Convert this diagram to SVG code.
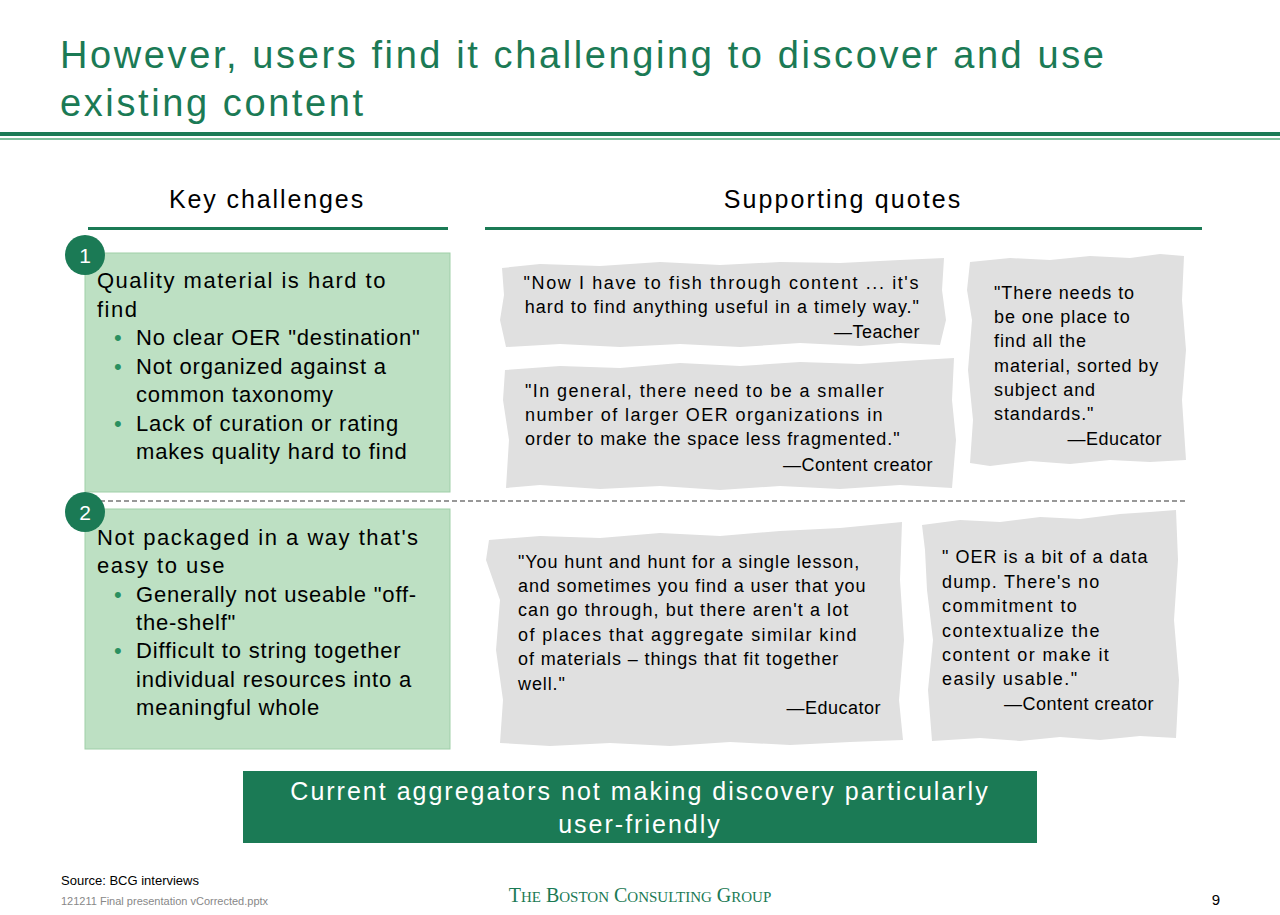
<svg xmlns="http://www.w3.org/2000/svg" width="1280" height="915" viewBox="0 0 1280 915">
<style>
.t{font-family:"Liberation Sans",Arial,sans-serif;}
.q{font-family:"Liberation Sans",Arial,sans-serif;font-size:18px;fill:#000;letter-spacing:0.9px;}
.b{font-family:"Liberation Sans",Arial,sans-serif;font-size:22px;fill:#000;letter-spacing:0.8px;}
.paper{fill:#e0e0e0;}
.gbox{fill:#bde0c3;stroke:#9fcfa8;stroke-width:1;}
.dot{fill:#2a9060;}
</style>
<rect width="1280" height="915" fill="#fff"/>
<text class="t" x="60" y="68" font-size="38" fill="#1b7a55" letter-spacing="2.6">However, users find it challenging to discover and use</text>
<text class="t" x="60" y="116" font-size="38" fill="#1b7a55" letter-spacing="2.6">existing content</text>
<rect x="0" y="132" width="1280" height="4" fill="#1b7a55"/>
<rect x="0" y="138" width="1280" height="2" fill="#7fbf9c"/>

<text class="t" x="267" y="208" font-size="25" text-anchor="middle" letter-spacing="1.9">Key challenges</text>
<text class="t" x="843" y="208" font-size="25" text-anchor="middle" letter-spacing="2.1">Supporting quotes</text>
<rect x="88" y="227" width="360" height="3" fill="#1b7a55"/>
<rect x="485" y="227" width="717" height="3" fill="#1b7a55"/>

<g id="connectors">
<line x1="100" y1="501" x2="1188" y2="501" stroke="#777" stroke-width="1.3" stroke-dasharray="5,3"/>
</g>

<g id="challenge1">
<rect class="gbox" x="85" y="253" width="365" height="239"/>
<circle cx="85" cy="255" r="20" fill="#1b7a55"/>
<text class="t" x="85" y="263" font-size="21" fill="#fff" text-anchor="middle">1</text>
<text class="b" x="97" y="288" style="letter-spacing:1.5px">Quality material is hard to</text>
<text class="b" x="97" y="317" style="letter-spacing:1.5px">find</text>
<text class="b" x="114" y="345"><tspan class="dot">•</tspan></text><text class="b" x="136" y="345">No clear OER "destination"</text>
<text class="b" x="114" y="374"><tspan class="dot">•</tspan></text><text class="b" x="136" y="374">Not organized against a</text>
<text class="b" x="136" y="402">common taxonomy</text>
<text class="b" x="114" y="431"><tspan class="dot">•</tspan></text><text class="b" x="136" y="431">Lack of curation or rating</text>
<text class="b" x="136" y="459">makes quality hard to find</text>
</g>

<g id="challenge2">
<rect class="gbox" x="85" y="509" width="365" height="240"/>
<circle cx="85" cy="512" r="20" fill="#1b7a55"/>
<text class="t" x="85" y="520" font-size="21" fill="#fff" text-anchor="middle">2</text>
<text class="b" x="97" y="545" style="letter-spacing:1.5px">Not packaged in a way that's</text>
<text class="b" x="97" y="573" style="letter-spacing:1.5px">easy to use</text>
<text class="b" x="114" y="602"><tspan class="dot">•</tspan></text><text class="b" x="136" y="602">Generally not useable "off-</text>
<text class="b" x="136" y="630">the-shelf"</text>
<text class="b" x="114" y="658"><tspan class="dot">•</tspan></text><text class="b" x="136" y="658">Difficult to string together</text>
<text class="b" x="136" y="687">individual resources into a</text>
<text class="b" x="136" y="715">meaningful whole</text>
</g>

<g id="quote1">
<polygon class="paper" points="502,268 540,264 600,266 660,262 720,265 780,262 840,263 900,260 944,258 942,290 946,320 940,345 900,343 860,346 800,343 740,347 680,344 620,347 560,344 506,347 500,320 504,295"/>
<text class="q" x="920" y="289" text-anchor="end" style="letter-spacing:1.6px">"Now I have to fish through content  ... it's</text>
<text class="q" x="920" y="313" text-anchor="end" style="letter-spacing:1.0px">hard to find anything useful in a timely way."</text>
<text class="q" x="920" y="338" text-anchor="end" style="letter-spacing:0.5px">—Teacher</text>
</g>

<g id="quote2">
<polygon class="paper" points="505,370 560,366 620,368 680,363 740,366 800,362 860,364 920,360 954,358 952,400 956,440 952,488 900,485 840,489 780,486 720,490 660,486 600,489 540,485 506,488 509,440 503,400"/>
<text class="q" x="525" y="397" style="letter-spacing:1.4px">"In general, there need to be a smaller</text>
<text class="q" x="525" y="421" style="letter-spacing:1.4px">number of larger OER organizations in</text>
<text class="q" x="525" y="445">order to make the space less fragmented."</text>
<text class="q" x="933" y="471" text-anchor="end" style="letter-spacing:0.5px">—Content creator</text>
</g>

<g id="quote3">
<polygon class="paper" points="970,262 1010,258 1050,260 1090,256 1130,258 1160,254 1184,256 1182,300 1186,350 1182,400 1186,460 1150,462 1110,460 1070,464 1030,461 990,466 970,463 973,420 968,370 972,320 967,290"/>
<text class="q" x="994" y="299">"There needs to</text>
<text class="q" x="994" y="323">be one place to</text>
<text class="q" x="994" y="347">find all the</text>
<text class="q" x="994" y="372">material, sorted by</text>
<text class="q" x="994" y="396">subject and</text>
<text class="q" x="994" y="420">standards."</text>
<text class="q" x="1162" y="445" text-anchor="end" style="letter-spacing:0.5px">—Educator</text>
</g>

<g id="quote4">
<polygon class="paper" points="489,540 540,536 600,538 660,533 720,536 780,531 840,528 902,522 900,580 904,640 899,700 903,740 850,742 790,745 730,742 670,746 610,743 550,746 500,743 503,700 496,650 500,600 486,560"/>
<text class="q" x="518" y="568">"You hunt and hunt for a single lesson,</text>
<text class="q" x="518" y="592">and sometimes you find a user that you</text>
<text class="q" x="518" y="616" style="letter-spacing:1.1px">can go through, but there aren't a lot</text>
<text class="q" x="518" y="641" style="letter-spacing:1.4px">of places that aggregate similar kind</text>
<text class="q" x="518" y="665">of materials – things that fit together</text>
<text class="q" x="518" y="690">well."</text>
<text class="q" x="881" y="714" text-anchor="end" style="letter-spacing:0.5px">—Educator</text>
</g>

<g id="quote5">
<polygon class="paper" points="922,525 960,520 1000,522 1040,517 1080,519 1120,514 1150,512 1176,510 1178,560 1174,620 1179,680 1176,738 1140,736 1100,740 1060,737 1020,741 980,738 932,741 928,690 933,640 927,590 925,550"/>
<text class="q" x="942" y="563" style="letter-spacing:1.0px">" OER is a bit of a data</text>
<text class="q" x="942" y="588" style="letter-spacing:1.2px">dump. There's no</text>
<text class="q" x="942" y="612" style="letter-spacing:1.4px">commitment to</text>
<text class="q" x="942" y="637" style="letter-spacing:1.4px">contextualize the</text>
<text class="q" x="942" y="661" style="letter-spacing:1.4px">content or make it</text>
<text class="q" x="942" y="685" style="letter-spacing:1.4px">easily usable."</text>
<text class="q" x="1154" y="710" text-anchor="end" style="letter-spacing:0.5px">—Content creator</text>
</g>

<g id="banner">
<rect x="243" y="771" width="794" height="72" fill="#1b7a55"/>
<text class="t" x="640" y="800" font-size="25" fill="#fff" text-anchor="middle" letter-spacing="2.0">Current aggregators not making discovery particularly</text>
<text class="t" x="640" y="833" font-size="25" fill="#fff" text-anchor="middle" letter-spacing="2.0">user-friendly</text>
</g>

<text class="t" x="61" y="885" font-size="13">Source: BCG interviews</text>
<text class="t" x="61" y="905" font-size="11" fill="#888">121211 Final presentation vCorrected.pptx</text>
<text x="640" y="902" font-family="Liberation Serif,serif" font-size="20" fill="#1b7a55" text-anchor="middle">T<tspan font-size="15">HE</tspan> B<tspan font-size="15">OSTON</tspan> C<tspan font-size="15">ONSULTING</tspan> G<tspan font-size="15">ROUP</tspan></text>
<text class="t" x="1220" y="905" font-size="15" text-anchor="end">9</text>
</svg>
